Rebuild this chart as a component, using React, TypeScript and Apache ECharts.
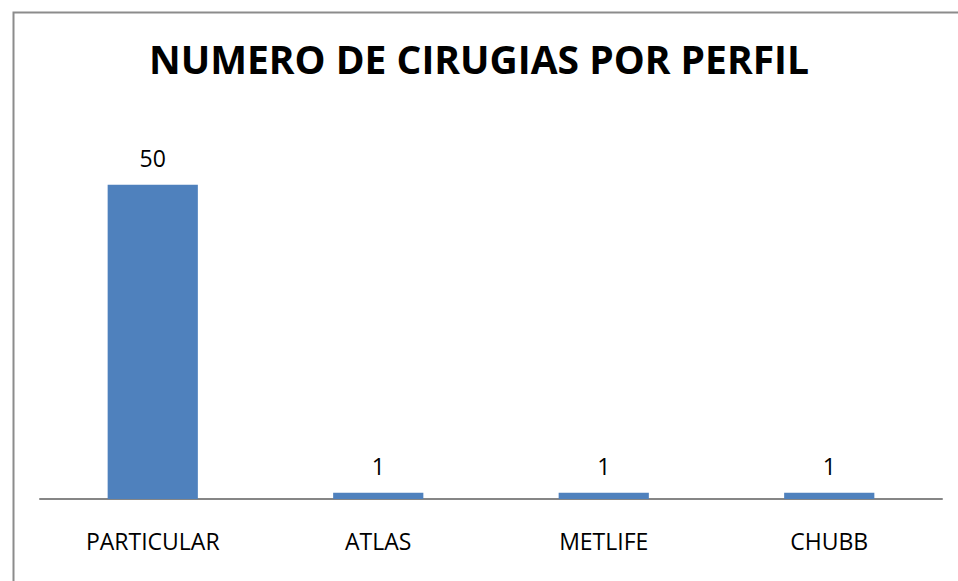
import React, { useEffect, useRef } from "react";
import * as echarts from "echarts";

const categories = ["PARTICULAR", "ATLAS", "METLIFE", "CHUBB"];
const values = [50, 1, 1, 1];
const titleText = "NUMERO DE CIRUGIAS POR PERFIL";

export default function App() {
  const ref = useRef<HTMLDivElement>(null);
  useEffect(() => {
    const chart = echarts.init(ref.current!, null, { renderer: "svg" });
    chart.setOption({
      animation: false,
      backgroundColor: "#ffffff",
      title: {
        text: titleText,
        left: "center",
        top: 34,
        textStyle: {
          fontFamily: "Open Sans",
          fontWeight: "bold",
          fontSize: 39,
          color: "#000000",
        },
      },
      graphic: [
        {
          type: "rect",
          left: 11,
          top: 10,
          shape: { width: 960, height: 600 },
          style: { fill: "none", stroke: "#8c8c8c", lineWidth: 2 },
          silent: true,
        },
      ],
      grid: { left: 40, right: 16, top: 122, bottom: 82, containLabel: false },
      xAxis: {
        type: "category",
        data: categories,
        axisLine: { show: true, lineStyle: { color: "#868686", width: 2 } },
        axisTick: { show: false },
        axisLabel: {
          margin: 30,
          fontFamily: "Open Sans",
          fontSize: 23,
          color: "#000000",
        },
      },
      yAxis: {
        type: "value",
        min: 0,
        max: 60,
        show: false,
        splitLine: { show: false },
      },
      series: [
        {
          type: "bar",
          data: values,
          barWidth: "40%",
          itemStyle: { color: "#4F81BD" },
          label: {
            show: true,
            position: "top",
            distance: 15,
            fontFamily: "Open Sans",
            fontSize: 23,
            color: "#000000",
          },
        },
      ],
    });
    return () => chart.dispose();
  }, []);
  return (
    <div
      ref={ref}
      style={{ position: "fixed", left: 0, top: 0, width: 958, height: 581 }}
    />
  );
}
